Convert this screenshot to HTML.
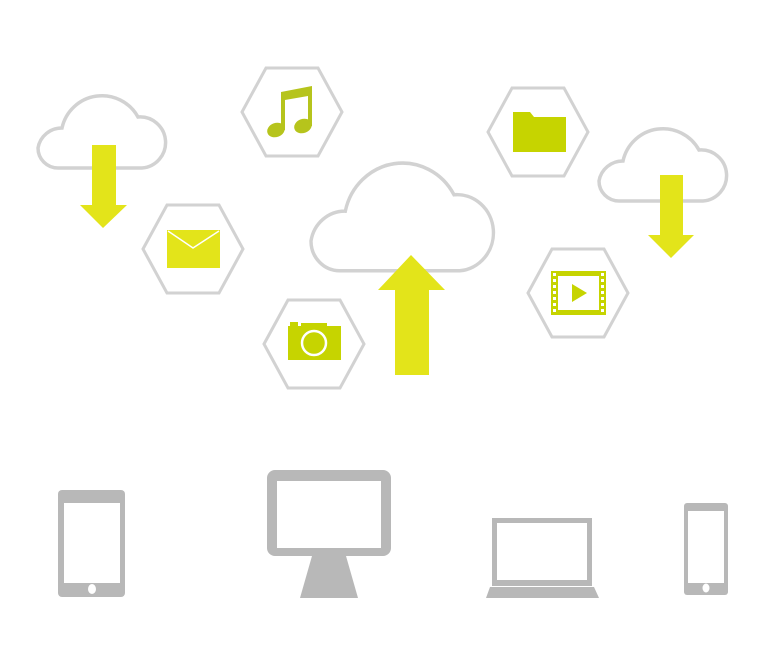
<!DOCTYPE html>
<html><head><meta charset="utf-8"><style>html,body{margin:0;padding:0;background:#fff}svg{display:block}</style></head>
<body>
<svg width="768" height="670" viewBox="0 0 768 670" xmlns="http://www.w3.org/2000/svg">
<defs>
<path id="cl" d="M20,75 A20,20 0 0 1 0,55 A24,24 0 0 1 24,35 A41,41 0 0 1 100,24 A25,25 0 1 1 104,75 Z"/>
<polygon id="hx" points="-50,0 -26,-44 26,-44 50,0 26,44 -26,44"/>
</defs>
<g fill="#fff" stroke="#d2d2d2" stroke-width="3.5">
<use href="#cl" transform="translate(38,93)"/>
<use href="#cl" transform="translate(599,126)"/>
<use href="#cl" transform="translate(311,159) scale(1.43,1.49)" stroke-width="2.4"/>
<use href="#hx" transform="translate(292,112)" stroke-width="3"/>
<use href="#hx" transform="translate(193,249)" stroke-width="3"/>
<use href="#hx" transform="translate(314,344)" stroke-width="3"/>
<use href="#hx" transform="translate(538,132)" stroke-width="3"/>
<use href="#hx" transform="translate(578,293)" stroke-width="3"/>
</g>
<g fill="#e3e41a">
<polygon points="92,145 116,145 116,205 127,205 103,228 80,205 92,205"/>
<polygon points="660,175 683,175 683,235 694,235 671,258 648,235 660,235"/>
<polygon points="395,375 429,375 429,290 445,290 411,255 378,290 395,290"/>
</g>
<g fill="#b6c41c">
<polygon points="281,92 312,86 312,126 308,126 308,96 285,100 285,130 281,130"/>
<ellipse cx="276" cy="130" rx="9" ry="7" transform="rotate(-20 276 130)"/>
<ellipse cx="303" cy="126" rx="9" ry="7" transform="rotate(-20 303 126)"/>
</g>
<rect x="167" y="230" width="53" height="38" fill="#e3e41a"/>
<polyline points="168,231 193,248 219,231" fill="none" stroke="#fff" stroke-width="1.5"/>
<rect x="288" y="326" width="53" height="34" fill="#c6d400"/>
<rect x="290" y="322" width="8" height="5" fill="#c6d400"/>
<rect x="301" y="323" width="26" height="4" fill="#c6d400"/>
<circle cx="314" cy="343" r="12" fill="#c6d400" stroke="#fff" stroke-width="2.5"/>
<polygon points="513,112 530,112 534,117 566,117 566,152 513,152" fill="#c6d400"/>
<rect x="551" y="271" width="55" height="44" fill="#c6d400"/>
<g fill="#fff">
<rect x="558" y="276" width="41" height="34"/>
<rect x="553" y="273" width="3" height="3"/><rect x="553" y="279" width="3" height="3"/><rect x="553" y="285" width="3" height="3"/><rect x="553" y="291" width="3" height="3"/><rect x="553" y="297" width="3" height="3"/><rect x="553" y="303" width="3" height="3"/><rect x="553" y="309" width="3" height="3"/>
<rect x="601" y="273" width="3" height="3"/><rect x="601" y="279" width="3" height="3"/><rect x="601" y="285" width="3" height="3"/><rect x="601" y="291" width="3" height="3"/><rect x="601" y="297" width="3" height="3"/><rect x="601" y="303" width="3" height="3"/><rect x="601" y="309" width="3" height="3"/>
</g>
<polygon points="572,284 572,302 587,293" fill="#c6d400"/>
<g fill="#b8b8b8">
<rect x="58" y="490" width="67" height="107" rx="4"/>
<rect x="267" y="470" width="124" height="86" rx="8"/>
<polygon points="312,556 346,556 358,598 300,598"/>
<rect x="492" y="518" width="100" height="68"/>
<polygon points="490,587 594,587 599,598 486,598"/>
<rect x="684" y="503" width="44" height="92" rx="3"/>
</g>
<g fill="#fff">
<rect x="64" y="503" width="56" height="80"/>
<ellipse cx="92" cy="589" rx="4" ry="5"/>
<rect x="277" y="481" width="104" height="67"/>
<rect x="497" y="523" width="90" height="57"/>
<rect x="688" y="511" width="36" height="72"/>
<ellipse cx="706" cy="588" rx="3.5" ry="4.5"/>
</g>
</svg>
</body></html>
